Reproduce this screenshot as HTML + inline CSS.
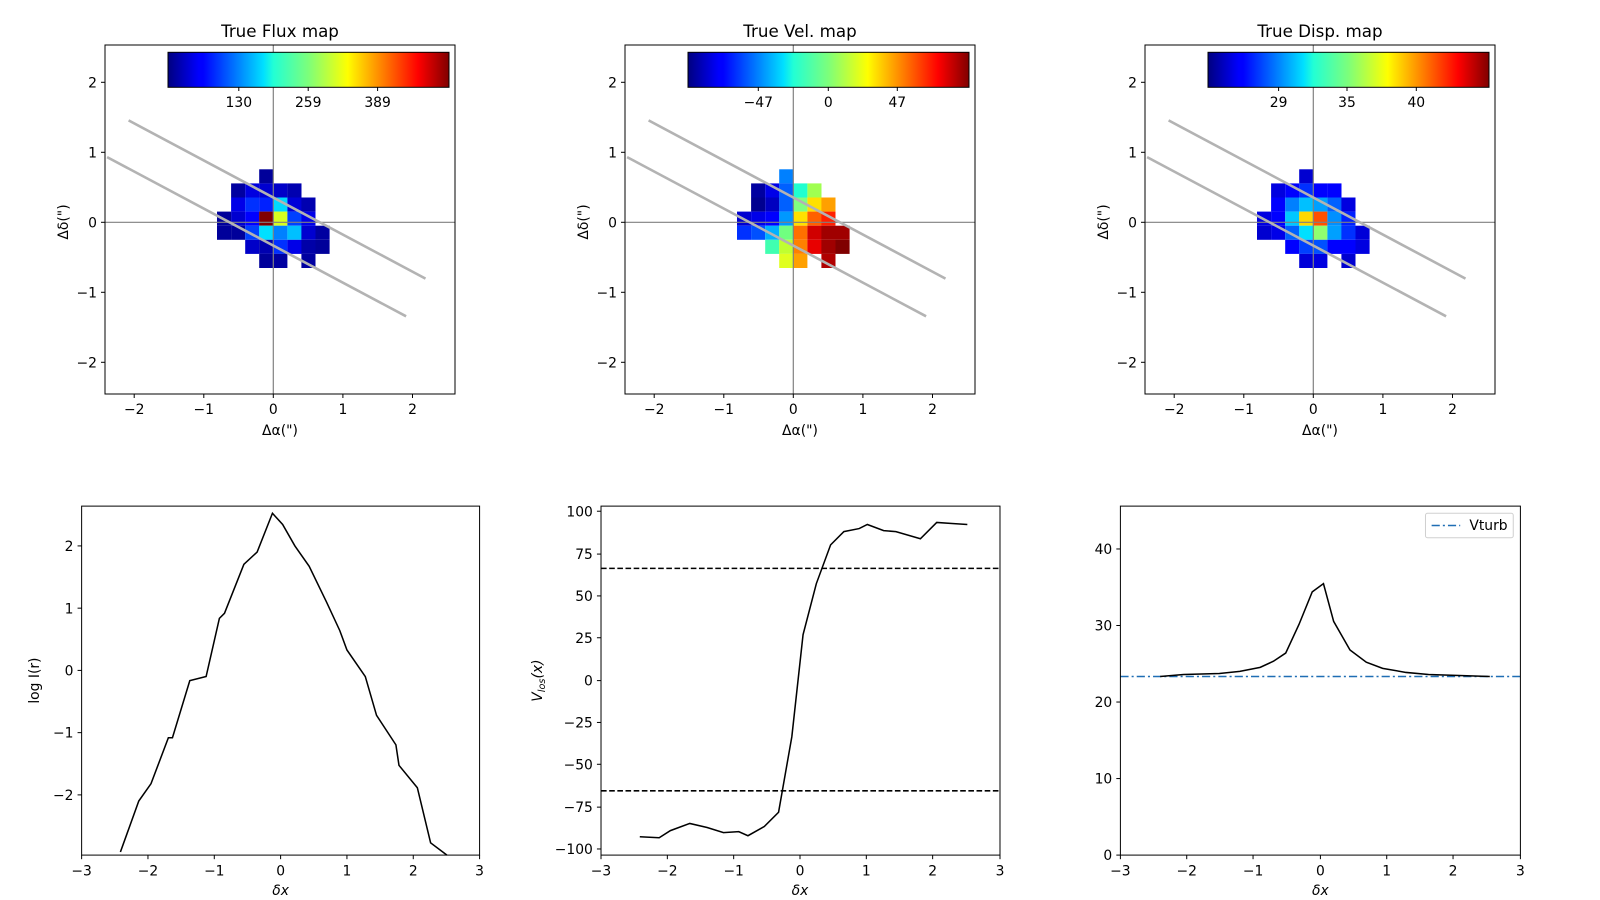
<!DOCTYPE html>
<html><head><meta charset="utf-8"><style>html,body{margin:0;padding:0;background:#fff}svg{display:block}text{font-family:"DejaVu Sans","Liberation Sans",sans-serif;fill:#000}</style></head><body>
<svg width="1600" height="900" viewBox="0 0 1600 900" xmlns="http://www.w3.org/2000/svg">
<defs>
<linearGradient id="jet" x1="0" x2="1" y1="0" y2="0">
<stop offset="0" stop-color="#000080"/><stop offset="0.11" stop-color="#0000ff"/><stop offset="0.125" stop-color="#0000ff"/><stop offset="0.34" stop-color="#00e0ff"/><stop offset="0.375" stop-color="#22ffd5"/><stop offset="0.5" stop-color="#7dff7a"/><stop offset="0.64" stop-color="#ffff00"/><stop offset="0.66" stop-color="#ffe800"/><stop offset="0.89" stop-color="#ff0000"/><stop offset="1" stop-color="#800000"/>
</linearGradient>
</defs>

<!-- ===== Top maps (real coords) ===== -->
<g id="m1">
<rect x="105" y="45" width="350" height="349" fill="#fff" stroke="none"/>
<g>
<rect x="259.2" y="169.3" width="14.1" height="14.1" fill="#00009a"/>
<rect x="231.1" y="183.4" width="14.1" height="14.1" fill="#0000a0"/><rect x="245.2" y="183.4" width="14.1" height="14.1" fill="#0000e0"/><rect x="259.2" y="183.4" width="14.1" height="14.1" fill="#0000d0"/><rect x="273.3" y="183.4" width="14.1" height="14.1" fill="#0000c8"/><rect x="287.4" y="183.4" width="14.1" height="14.1" fill="#0000b0"/>
<rect x="231.1" y="197.5" width="14.1" height="14.1" fill="#0000e8"/><rect x="245.2" y="197.5" width="14.1" height="14.1" fill="#0030ff"/><rect x="259.2" y="197.5" width="14.1" height="14.1" fill="#0020ff"/><rect x="273.3" y="197.5" width="14.1" height="14.1" fill="#00d8ff"/><rect x="287.4" y="197.5" width="14.1" height="14.1" fill="#0000d8"/><rect x="301.4" y="197.5" width="14.1" height="14.1" fill="#0000b0"/>
<rect x="217" y="211.6" width="14.1" height="14.1" fill="#00009a"/><rect x="231.1" y="211.6" width="14.1" height="14.1" fill="#0000d0"/><rect x="245.2" y="211.6" width="14.1" height="14.1" fill="#0000ff"/><rect x="259.2" y="211.6" width="14.1" height="14.1" fill="#800000"/><rect x="273.3" y="211.6" width="14.1" height="14.1" fill="#d8ff20"/><rect x="287.4" y="211.6" width="14.1" height="14.1" fill="#0040ff"/><rect x="301.4" y="211.6" width="14.1" height="14.1" fill="#0000e8"/>
<rect x="217" y="225.7" width="14.1" height="14.1" fill="#00009a"/><rect x="231.1" y="225.7" width="14.1" height="14.1" fill="#00009a"/><rect x="245.2" y="225.7" width="14.1" height="14.1" fill="#0040ff"/><rect x="259.2" y="225.7" width="14.1" height="14.1" fill="#00e0ff"/><rect x="273.3" y="225.7" width="14.1" height="14.1" fill="#0080ff"/><rect x="287.4" y="225.7" width="14.1" height="14.1" fill="#00c0ff"/><rect x="301.4" y="225.7" width="14.1" height="14.1" fill="#0000d0"/><rect x="315.5" y="225.7" width="14.1" height="14.1" fill="#0000a0"/>
<rect x="245.2" y="239.8" width="14.1" height="14.1" fill="#0000c8"/><rect x="259.2" y="239.8" width="14.1" height="14.1" fill="#0000b0"/><rect x="273.3" y="239.8" width="14.1" height="14.1" fill="#0030ff"/><rect x="287.4" y="239.8" width="14.1" height="14.1" fill="#0000e8"/><rect x="301.4" y="239.8" width="14.1" height="14.1" fill="#0000a8"/><rect x="315.5" y="239.8" width="14.1" height="14.1" fill="#00009a"/>
<rect x="259.2" y="253.9" width="14.1" height="14.1" fill="#00009a"/><rect x="273.3" y="253.9" width="14.1" height="14.1" fill="#0000a0"/><rect x="301.4" y="253.9" width="14.1" height="14.1" fill="#0000a0"/>
</g>
</g>

<g transform="translate(520,0)">
<rect x="259.2" y="169.3" width="14.1" height="14.1" fill="#0080ff"/>
<rect x="231.1" y="183.4" width="14.1" height="14.1" fill="#0000a0"/><rect x="245.2" y="183.4" width="14.1" height="14.1" fill="#0000e8"/><rect x="259.2" y="183.4" width="14.1" height="14.1" fill="#0060ff"/><rect x="273.3" y="183.4" width="14.1" height="14.1" fill="#20ffd0"/><rect x="287.4" y="183.4" width="14.1" height="14.1" fill="#a0ff50"/>
<rect x="231.1" y="197.5" width="14.1" height="14.1" fill="#000090"/><rect x="245.2" y="197.5" width="14.1" height="14.1" fill="#0000c0"/><rect x="259.2" y="197.5" width="14.1" height="14.1" fill="#0060ff"/><rect x="273.3" y="197.5" width="14.1" height="14.1" fill="#80ff80"/><rect x="287.4" y="197.5" width="14.1" height="14.1" fill="#ffe000"/><rect x="301.4" y="197.5" width="14.1" height="14.1" fill="#ffa000"/>
<rect x="217" y="211.6" width="14.1" height="14.1" fill="#0000d0"/><rect x="231.1" y="211.6" width="14.1" height="14.1" fill="#0000e8"/><rect x="245.2" y="211.6" width="14.1" height="14.1" fill="#0000ff"/><rect x="259.2" y="211.6" width="14.1" height="14.1" fill="#0098ff"/><rect x="273.3" y="211.6" width="14.1" height="14.1" fill="#ffe000"/><rect x="287.4" y="211.6" width="14.1" height="14.1" fill="#ff6000"/><rect x="301.4" y="211.6" width="14.1" height="14.1" fill="#ff2000"/>
<rect x="217" y="225.7" width="14.1" height="14.1" fill="#0030ff"/><rect x="231.1" y="225.7" width="14.1" height="14.1" fill="#0050ff"/><rect x="245.2" y="225.7" width="14.1" height="14.1" fill="#00b0ff"/><rect x="259.2" y="225.7" width="14.1" height="14.1" fill="#70ff80"/><rect x="273.3" y="225.7" width="14.1" height="14.1" fill="#ff7000"/><rect x="287.4" y="225.7" width="14.1" height="14.1" fill="#d00000"/><rect x="301.4" y="225.7" width="14.1" height="14.1" fill="#a00000"/><rect x="315.5" y="225.7" width="14.1" height="14.1" fill="#a00000"/>
<rect x="245.2" y="239.8" width="14.1" height="14.1" fill="#40ffb0"/><rect x="259.2" y="239.8" width="14.1" height="14.1" fill="#c0ff30"/><rect x="273.3" y="239.8" width="14.1" height="14.1" fill="#ff8000"/><rect x="287.4" y="239.8" width="14.1" height="14.1" fill="#e80000"/><rect x="301.4" y="239.8" width="14.1" height="14.1" fill="#a00000"/><rect x="315.5" y="239.8" width="14.1" height="14.1" fill="#800000"/>
<rect x="259.2" y="253.9" width="14.1" height="14.1" fill="#e0ff20"/><rect x="273.3" y="253.9" width="14.1" height="14.1" fill="#ffa000"/><rect x="301.4" y="253.9" width="14.1" height="14.1" fill="#b00000"/>
</g>

<g transform="translate(1040,0)">
<rect x="259.2" y="169.3" width="14.1" height="14.1" fill="#0000d0"/>
<rect x="231.1" y="183.4" width="14.1" height="14.1" fill="#0000e0"/><rect x="245.2" y="183.4" width="14.1" height="14.1" fill="#0000ff"/><rect x="259.2" y="183.4" width="14.1" height="14.1" fill="#0030ff"/><rect x="273.3" y="183.4" width="14.1" height="14.1" fill="#0000ff"/><rect x="287.4" y="183.4" width="14.1" height="14.1" fill="#0000ff"/>
<rect x="231.1" y="197.5" width="14.1" height="14.1" fill="#0000ff"/><rect x="245.2" y="197.5" width="14.1" height="14.1" fill="#0080ff"/><rect x="259.2" y="197.5" width="14.1" height="14.1" fill="#00c0ff"/><rect x="273.3" y="197.5" width="14.1" height="14.1" fill="#00a0ff"/><rect x="287.4" y="197.5" width="14.1" height="14.1" fill="#0060ff"/><rect x="301.4" y="197.5" width="14.1" height="14.1" fill="#0000e0"/>
<rect x="217" y="211.6" width="14.1" height="14.1" fill="#0000e0"/><rect x="231.1" y="211.6" width="14.1" height="14.1" fill="#0000ff"/><rect x="245.2" y="211.6" width="14.1" height="14.1" fill="#00c8ff"/><rect x="259.2" y="211.6" width="14.1" height="14.1" fill="#ffd800"/><rect x="273.3" y="211.6" width="14.1" height="14.1" fill="#ff5000"/><rect x="287.4" y="211.6" width="14.1" height="14.1" fill="#0090ff"/><rect x="301.4" y="211.6" width="14.1" height="14.1" fill="#0020ff"/>
<rect x="217" y="225.7" width="14.1" height="14.1" fill="#0000d0"/><rect x="231.1" y="225.7" width="14.1" height="14.1" fill="#0000e8"/><rect x="245.2" y="225.7" width="14.1" height="14.1" fill="#0060ff"/><rect x="259.2" y="225.7" width="14.1" height="14.1" fill="#00e0ff"/><rect x="273.3" y="225.7" width="14.1" height="14.1" fill="#90ff70"/><rect x="287.4" y="225.7" width="14.1" height="14.1" fill="#00a0ff"/><rect x="301.4" y="225.7" width="14.1" height="14.1" fill="#0030ff"/><rect x="315.5" y="225.7" width="14.1" height="14.1" fill="#0000d8"/>
<rect x="245.2" y="239.8" width="14.1" height="14.1" fill="#0000ff"/><rect x="259.2" y="239.8" width="14.1" height="14.1" fill="#0040ff"/><rect x="273.3" y="239.8" width="14.1" height="14.1" fill="#0050ff"/><rect x="287.4" y="239.8" width="14.1" height="14.1" fill="#0000ff"/><rect x="301.4" y="239.8" width="14.1" height="14.1" fill="#0000ff"/><rect x="315.5" y="239.8" width="14.1" height="14.1" fill="#0000e0"/>
<rect x="259.2" y="253.9" width="14.1" height="14.1" fill="#0000d8"/><rect x="273.3" y="253.9" width="14.1" height="14.1" fill="#0000e0"/><rect x="301.4" y="253.9" width="14.1" height="14.1" fill="#0000d0"/>
</g>

<!-- overlays for each top panel -->
<g id="ov">
<line x1="273.3" y1="45" x2="273.3" y2="394" stroke="#808080" stroke-width="1.2"/>
<line x1="105" y1="222.3" x2="455" y2="222.3" stroke="#808080" stroke-width="1.2"/>
<line x1="128.6" y1="120.4" x2="425.5" y2="278.6" stroke="#b3b3b3" stroke-width="2.6"/>
<line x1="107.1" y1="157.1" x2="406.1" y2="316.3" stroke="#b3b3b3" stroke-width="2.6"/>
<rect x="105" y="45" width="350" height="349" fill="none" stroke="#000" stroke-width="1"/>
<g stroke="#000" stroke-width="1">
<line x1="134.2" y1="394" x2="134.2" y2="398"/><line x1="203.8" y1="394" x2="203.8" y2="398"/><line x1="273.3" y1="394" x2="273.3" y2="398"/><line x1="342.9" y1="394" x2="342.9" y2="398"/><line x1="412.5" y1="394" x2="412.5" y2="398"/>
<line x1="101" y1="82.3" x2="105" y2="82.3"/><line x1="101" y1="152.3" x2="105" y2="152.3"/><line x1="101" y1="222.3" x2="105" y2="222.3"/><line x1="101" y1="292.3" x2="105" y2="292.3"/><line x1="101" y1="362.3" x2="105" y2="362.3"/>
</g>
<g font-size="13.9" text-anchor="middle">
<text x="134.2" y="414">−2</text><text x="203.8" y="414">−1</text><text x="273.3" y="414">0</text><text x="342.9" y="414">1</text><text x="412.5" y="414">2</text>
</g>
<g font-size="13.9" text-anchor="end">
<text x="97" y="87.3">2</text><text x="97" y="157.3">1</text><text x="97" y="227.3">0</text><text x="97" y="297.3">−1</text><text x="97" y="367.3">−2</text>
</g>
<text x="280" y="435" font-size="13.9" text-anchor="middle">Δα(")</text>
<text transform="translate(68,222) rotate(-90)" font-size="13.9" text-anchor="middle">Δδ(")</text>
<text x="280" y="37" font-size="16.7" text-anchor="middle">True Flux map</text>
<rect x="168" y="52.3" width="281" height="35" fill="url(#jet)" stroke="#000" stroke-width="1"/>
</g>
<g transform="translate(520,0)">
<line x1="273.3" y1="45" x2="273.3" y2="394" stroke="#808080" stroke-width="1.2"/>
<line x1="105" y1="222.3" x2="455" y2="222.3" stroke="#808080" stroke-width="1.2"/>
<line x1="128.6" y1="120.4" x2="425.5" y2="278.6" stroke="#b3b3b3" stroke-width="2.6"/>
<line x1="107.1" y1="157.1" x2="406.1" y2="316.3" stroke="#b3b3b3" stroke-width="2.6"/>
<rect x="105" y="45" width="350" height="349" fill="none" stroke="#000" stroke-width="1"/>
<g stroke="#000" stroke-width="1">
<line x1="134.2" y1="394" x2="134.2" y2="398"/><line x1="203.8" y1="394" x2="203.8" y2="398"/><line x1="273.3" y1="394" x2="273.3" y2="398"/><line x1="342.9" y1="394" x2="342.9" y2="398"/><line x1="412.5" y1="394" x2="412.5" y2="398"/>
<line x1="101" y1="82.3" x2="105" y2="82.3"/><line x1="101" y1="152.3" x2="105" y2="152.3"/><line x1="101" y1="222.3" x2="105" y2="222.3"/><line x1="101" y1="292.3" x2="105" y2="292.3"/><line x1="101" y1="362.3" x2="105" y2="362.3"/>
</g>
<g font-size="13.9" text-anchor="middle">
<text x="134.2" y="414">−2</text><text x="203.8" y="414">−1</text><text x="273.3" y="414">0</text><text x="342.9" y="414">1</text><text x="412.5" y="414">2</text>
</g>
<g font-size="13.9" text-anchor="end">
<text x="97" y="87.3">2</text><text x="97" y="157.3">1</text><text x="97" y="227.3">0</text><text x="97" y="297.3">−1</text><text x="97" y="367.3">−2</text>
</g>
<text x="280" y="435" font-size="13.9" text-anchor="middle">Δα(")</text>
<text transform="translate(68,222) rotate(-90)" font-size="13.9" text-anchor="middle">Δδ(")</text>
<text x="280" y="37" font-size="16.7" text-anchor="middle">True Vel. map</text>
<rect x="168" y="52.3" width="281" height="35" fill="url(#jet)" stroke="#000" stroke-width="1"/>
</g>
<g transform="translate(1040,0)">
<line x1="273.3" y1="45" x2="273.3" y2="394" stroke="#808080" stroke-width="1.2"/>
<line x1="105" y1="222.3" x2="455" y2="222.3" stroke="#808080" stroke-width="1.2"/>
<line x1="128.6" y1="120.4" x2="425.5" y2="278.6" stroke="#b3b3b3" stroke-width="2.6"/>
<line x1="107.1" y1="157.1" x2="406.1" y2="316.3" stroke="#b3b3b3" stroke-width="2.6"/>
<rect x="105" y="45" width="350" height="349" fill="none" stroke="#000" stroke-width="1"/>
<g stroke="#000" stroke-width="1">
<line x1="134.2" y1="394" x2="134.2" y2="398"/><line x1="203.8" y1="394" x2="203.8" y2="398"/><line x1="273.3" y1="394" x2="273.3" y2="398"/><line x1="342.9" y1="394" x2="342.9" y2="398"/><line x1="412.5" y1="394" x2="412.5" y2="398"/>
<line x1="101" y1="82.3" x2="105" y2="82.3"/><line x1="101" y1="152.3" x2="105" y2="152.3"/><line x1="101" y1="222.3" x2="105" y2="222.3"/><line x1="101" y1="292.3" x2="105" y2="292.3"/><line x1="101" y1="362.3" x2="105" y2="362.3"/>
</g>
<g font-size="13.9" text-anchor="middle">
<text x="134.2" y="414">−2</text><text x="203.8" y="414">−1</text><text x="273.3" y="414">0</text><text x="342.9" y="414">1</text><text x="412.5" y="414">2</text>
</g>
<g font-size="13.9" text-anchor="end">
<text x="97" y="87.3">2</text><text x="97" y="157.3">1</text><text x="97" y="227.3">0</text><text x="97" y="297.3">−1</text><text x="97" y="367.3">−2</text>
</g>
<text x="280" y="435" font-size="13.9" text-anchor="middle">Δα(")</text>
<text transform="translate(68,222) rotate(-90)" font-size="13.9" text-anchor="middle">Δδ(")</text>
<text x="280" y="37" font-size="16.7" text-anchor="middle">True Disp. map</text>
<rect x="168" y="52.3" width="281" height="35" fill="url(#jet)" stroke="#000" stroke-width="1"/>
</g>
<!-- colorbar ticks -->
<g stroke="#000" stroke-width="1">
<line x1="238.8" y1="87.3" x2="238.8" y2="91"/><line x1="308.2" y1="87.3" x2="308.2" y2="91"/><line x1="377.6" y1="87.3" x2="377.6" y2="91"/>
<line x1="758.3" y1="87.3" x2="758.3" y2="91"/><line x1="828.3" y1="87.3" x2="828.3" y2="91"/><line x1="897.3" y1="87.3" x2="897.3" y2="91"/>
<line x1="1278.6" y1="87.3" x2="1278.6" y2="91"/><line x1="1347" y1="87.3" x2="1347" y2="91"/><line x1="1416.3" y1="87.3" x2="1416.3" y2="91"/>
</g>
<g font-size="13.9" text-anchor="middle">
<text x="238.8" y="107">130</text><text x="308.2" y="107">259</text><text x="377.6" y="107">389</text>
<text x="758.3" y="107">−47</text><text x="828.3" y="107">0</text><text x="897.3" y="107">47</text>
<text x="1278.6" y="107">29</text><text x="1347" y="107">35</text><text x="1416.3" y="107">40</text>
</g>

<!-- ===== Bottom panels (overview coords) ===== -->
<g transform="scale(1.0204)">
<!-- panel 1 -->
<polyline fill="none" stroke="#000" stroke-width="1.5" points="118,835 136,785 148,768 165,723 169,723 186,667 202,663 215,606 220,601 239,553 252,541 267,503 277,514 289,535 303,555 320,590 333,618 340,637 358,663 369,701 388,730 391,750 409,772 422,826 438,838"/>
<rect x="80" y="496" width="390" height="342" fill="none" stroke="#000" stroke-width="0.98"/>
<g stroke="#000" stroke-width="0.98">
<line x1="80" y1="838" x2="80" y2="842"/><line x1="145" y1="838" x2="145" y2="842"/><line x1="210" y1="838" x2="210" y2="842"/><line x1="275" y1="838" x2="275" y2="842"/><line x1="340" y1="838" x2="340" y2="842"/><line x1="405" y1="838" x2="405" y2="842"/><line x1="470" y1="838" x2="470" y2="842"/>
<line x1="76" y1="535" x2="80" y2="535"/><line x1="76" y1="596" x2="80" y2="596"/><line x1="76" y1="657" x2="80" y2="657"/><line x1="76" y1="718" x2="80" y2="718"/><line x1="76" y1="779" x2="80" y2="779"/>
</g>
<g font-size="13.6" text-anchor="middle">
<text x="80" y="858">−3</text><text x="145" y="858">−2</text><text x="210" y="858">−1</text><text x="275" y="858">0</text><text x="340" y="858">1</text><text x="405" y="858">2</text><text x="470" y="858">3</text>
</g>
<g font-size="13.6" text-anchor="end">
<text x="72" y="540">2</text><text x="72" y="601">1</text><text x="72" y="662">0</text><text x="72" y="723">−1</text><text x="72" y="784">−2</text>
</g>
<text x="275" y="877" font-size="13.6" font-style="italic" text-anchor="middle">δx</text>
<text transform="translate(38,667) rotate(-90)" font-size="13.6" text-anchor="middle">log I(r)</text>

<!-- panel 2 -->
<line x1="589" y1="557" x2="980" y2="557" stroke="#000" stroke-width="1.5" stroke-dasharray="5.5,2.5"/>
<line x1="589" y1="775" x2="980" y2="775" stroke="#000" stroke-width="1.5" stroke-dasharray="5.5,2.5"/>
<polyline fill="none" stroke="#000" stroke-width="1.5" points="627,820 646,821 657,814 676,807 693,811 709,816 724,815 733,819 749,810 763,796 776,722 787,622 800,572 814,534 827,521 842,518 850,514 866,520 878,521 902,528 918,512 933,513 948,514"/>
<rect x="589" y="496" width="391" height="342" fill="none" stroke="#000" stroke-width="0.98"/>
<g stroke="#000" stroke-width="0.98">
<line x1="589" y1="838" x2="589" y2="842"/><line x1="654" y1="838" x2="654" y2="842"/><line x1="719" y1="838" x2="719" y2="842"/><line x1="784" y1="838" x2="784" y2="842"/><line x1="849" y1="838" x2="849" y2="842"/><line x1="914" y1="838" x2="914" y2="842"/><line x1="980" y1="838" x2="980" y2="842"/>
<line x1="585" y1="501" x2="589" y2="501"/><line x1="585" y1="543" x2="589" y2="543"/><line x1="585" y1="584" x2="589" y2="584"/><line x1="585" y1="625" x2="589" y2="625"/><line x1="585" y1="667" x2="589" y2="667"/><line x1="585" y1="708" x2="589" y2="708"/><line x1="585" y1="749" x2="589" y2="749"/><line x1="585" y1="791" x2="589" y2="791"/><line x1="585" y1="832" x2="589" y2="832"/>
</g>
<g font-size="13.6" text-anchor="middle">
<text x="589" y="858">−3</text><text x="654" y="858">−2</text><text x="719" y="858">−1</text><text x="784" y="858">0</text><text x="849" y="858">1</text><text x="914" y="858">2</text><text x="980" y="858">3</text>
</g>
<g font-size="13.6" text-anchor="end">
<text x="581" y="506">100</text><text x="581" y="548">75</text><text x="581" y="589">50</text><text x="581" y="630">25</text><text x="581" y="672">0</text><text x="581" y="713">−25</text><text x="581" y="754">−50</text><text x="581" y="796">−75</text><text x="581" y="837">−100</text>
</g>
<text x="784" y="877" font-size="13.6" font-style="italic" text-anchor="middle">δx</text>
<text transform="translate(531,667) rotate(-90)" font-size="13.6" text-anchor="middle"><tspan font-style="italic">V</tspan><tspan font-style="italic" font-size="9.5" dy="3">los</tspan><tspan dy="-3" font-style="italic">(x)</tspan></text>

<!-- panel 3 -->
<line x1="1098" y1="663" x2="1490" y2="663" stroke="#1f6eb4" stroke-width="1.5" stroke-dasharray="8,3,2,3"/>
<polyline fill="none" stroke="#000" stroke-width="1.5" points="1137,663 1160,661 1195,660 1215,658 1235,654 1248,648 1260,640 1273,612 1286,580 1297,572 1307,609 1323,637 1339,649 1355,655 1378,659 1400,661 1430,662 1460,663"/>
<rect x="1098" y="496" width="392" height="342" fill="none" stroke="#000" stroke-width="0.98"/>
<g stroke="#000" stroke-width="0.98">
<line x1="1098" y1="838" x2="1098" y2="842"/><line x1="1163" y1="838" x2="1163" y2="842"/><line x1="1228" y1="838" x2="1228" y2="842"/><line x1="1294" y1="838" x2="1294" y2="842"/><line x1="1359" y1="838" x2="1359" y2="842"/><line x1="1424" y1="838" x2="1424" y2="842"/><line x1="1490" y1="838" x2="1490" y2="842"/>
<line x1="1094" y1="538" x2="1098" y2="538"/><line x1="1094" y1="613" x2="1098" y2="613"/><line x1="1094" y1="688" x2="1098" y2="688"/><line x1="1094" y1="763" x2="1098" y2="763"/><line x1="1094" y1="838" x2="1098" y2="838"/>
</g>
<g font-size="13.6" text-anchor="middle">
<text x="1098" y="858">−3</text><text x="1163" y="858">−2</text><text x="1228" y="858">−1</text><text x="1294" y="858">0</text><text x="1359" y="858">1</text><text x="1424" y="858">2</text><text x="1490" y="858">3</text>
</g>
<g font-size="13.6" text-anchor="end">
<text x="1090" y="543">40</text><text x="1090" y="618">30</text><text x="1090" y="693">20</text><text x="1090" y="768">10</text><text x="1090" y="843">0</text>
</g>
<text x="1294" y="877" font-size="13.6" font-style="italic" text-anchor="middle">δx</text>
<rect x="1397" y="503" width="86" height="24" rx="2" fill="#fff" stroke="#d0d0d0" stroke-width="1"/>
<line x1="1403" y1="515" x2="1431" y2="515" stroke="#1f6eb4" stroke-width="1.5" stroke-dasharray="8,3,2,3"/>
<text x="1440" y="519.5" font-size="13.6">Vturb</text>
</g>
</svg>
</body></html>
